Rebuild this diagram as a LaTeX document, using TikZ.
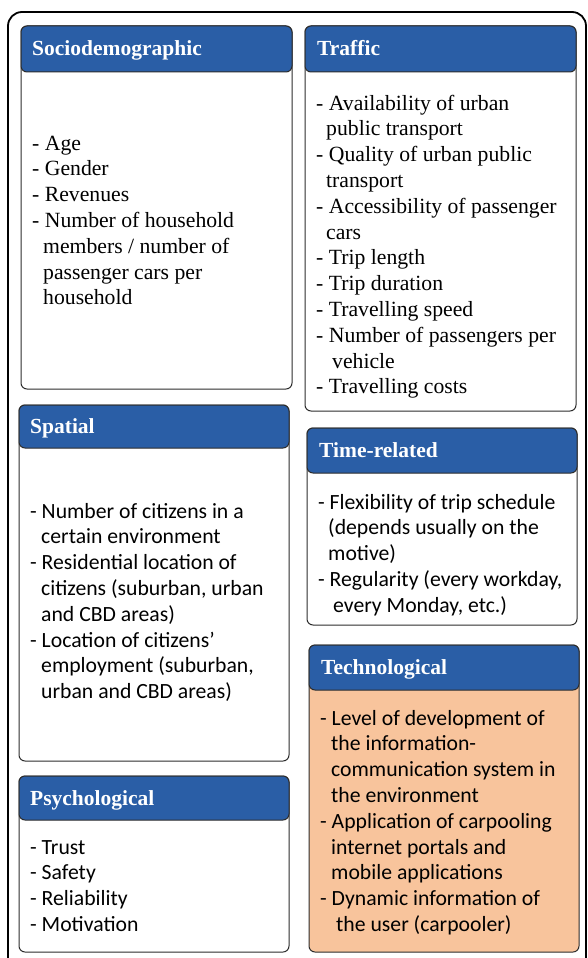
\documentclass[tikz,border=0pt]{standalone}
\usepackage{fontspec}
\setmainfont{Liberation Serif}
\newfontfamily\calfont{Carlito}
\definecolor{hdrblue}{RGB}{42,94,166}
\definecolor{peach}{RGB}{248,196,156}
\definecolor{edgegray}{RGB}{45,45,45}
\begin{document}
\begin{tikzpicture}[x=1pt,y=-1pt,
  frame/.style={draw=black, line width=1.8pt, rounded corners=14pt, anchor=north west, inner sep=0pt, outer sep=0pt},
  bodybox/.style={draw=edgegray, line width=1pt, rounded corners=6pt, fill=white, anchor=north west, inner sep=0pt, outer sep=0pt},
  hdrbox/.style={draw=edgegray, line width=1pt, rounded corners=6pt, fill=hdrblue, anchor=north west, inner sep=0pt, outer sep=0pt},
  htext/.style={text=white, font=\fontsize{21.5}{25}\selectfont\bfseries, anchor=base west, inner sep=0pt},
  seriftext/.style={font=\fontsize{21.7}{25.8}\selectfont, align=left, anchor=base west, inner sep=0pt},
  sanstext/.style={font=\calfont\fontsize{21.7}{25.8}\selectfont, align=left, anchor=base west, inner sep=0pt}
]
\useasboundingbox (0,0) rectangle (587,958);
\node[frame, minimum width=578pt, minimum height=960pt] (outer) at (8,12) {};

% Sociodemographic
\node[bodybox, minimum width=271pt, minimum height=363pt] (sociob) at (21,26) {};
\node[hdrbox, minimum width=271pt, minimum height=46pt] (socioh) at (21,26) {};
\node[htext] (sociot) at (32,56) {Sociodemographic};
\node[seriftext] (socioi) at (32,304.8) {- Age\\- Gender\\- Revenues\\- Number of household\\\hspace*{11pt}members / number of\\\hspace*{11pt}passenger cars per\\\hspace*{11pt}household};

% Traffic
\node[bodybox, minimum width=271pt, minimum height=385pt] (trafb) at (305,26) {};
\node[hdrbox, minimum width=271pt, minimum height=46pt] (trafh) at (305,26) {};
\node[htext] (traft) at (317,56) {Traffic};
\node[seriftext] (trafi) at (316,393.8) {- Availability of urban\\\hspace*{10pt}public transport\\- Quality of urban public\\\hspace*{10pt}transport\\- Accessibility of passenger\\\hspace*{10pt}cars\\- Trip length\\- Trip duration\\- Travelling speed\\- Number of passengers per\\\hspace*{16pt}vehicle\\- Travelling costs};

% Spatial
\node[bodybox, minimum width=270pt, minimum height=356pt] (spatb) at (19,405) {};
\node[hdrbox, minimum width=270pt, minimum height=43pt] (spath) at (19,405) {};
\node[htext] (spatt) at (30,433.5) {Spatial};
\node[sanstext] (spati) at (30,698.6) {- Number of citizens in a\\\hspace*{11pt}certain environment\\- Residential location of\\\hspace*{11pt}citizens (suburban, urban\\\hspace*{11pt}and CBD areas)\\- Location of citizens’\\\hspace*{11pt}employment (suburban,\\\hspace*{11pt}urban and CBD areas)};

% Time-related
\node[bodybox, minimum width=270pt, minimum height=197pt] (timeb) at (307,428) {};
\node[hdrbox, minimum width=270pt, minimum height=45pt] (timeh) at (307,428) {};
\node[htext] (timet) at (319,457.5) {Time-related};
\node[sanstext] (timei) at (318,612.2) {- Flexibility of trip schedule\\\hspace*{10pt}(depends usually on the\\\hspace*{10pt}motive)\\- Regularity (every workday,\\\hspace*{15pt}every Monday, etc.)};

% Technological
\node[bodybox, fill=peach, minimum width=270pt, minimum height=307pt] (techb) at (309,645) {};
\node[hdrbox, minimum width=270pt, minimum height=45pt] (techh) at (309,645) {};
\node[htext] (techt) at (321,674.5) {Technological};
\node[sanstext] (techi) at (320,931.4) {- Level of development of\\\hspace*{11pt}the information-\\\hspace*{11pt}communication system in\\\hspace*{11pt}the environment\\- Application of carpooling\\\hspace*{11pt}internet portals and\\\hspace*{11pt}mobile applications\\- Dynamic information of\\\hspace*{16pt}the user (carpooler)};

% Psychological
\node[bodybox, minimum width=270pt, minimum height=176pt] (psyb) at (19,776) {};
\node[hdrbox, minimum width=270pt, minimum height=44pt] (psyh) at (19,776) {};
\node[htext] (psyt) at (30,805) {Psychological};
\node[sanstext] (psyi) at (30,931.4) {- Trust\\- Safety\\- Reliability\\- Motivation};
\end{tikzpicture}
\end{document}
